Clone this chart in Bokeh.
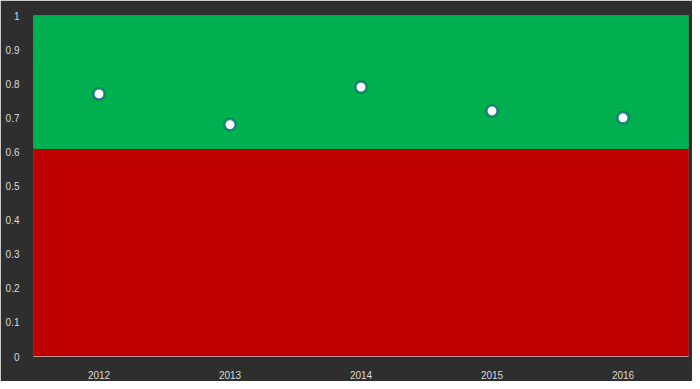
from bokeh.plotting import figure
from bokeh.models import Range1d, FixedTicker, NumeralTickFormatter, ColumnDataSource
from bokeh.embed import file_html
from bokeh.resources import INLINE

years = ["2012", "2013", "2014", "2015", "2016"]
values = [0.77, 0.68, 0.79, 0.72, 0.70]
threshold = [0.61, 0.61, 0.61, 0.61, 0.61]
top = [1, 1, 1, 1, 1]
y_ticks = [0, 0.1, 0.2, 0.3, 0.4, 0.5, 0.6, 0.7, 0.8, 0.9, 1]

src = ColumnDataSource(dict(year=years, value=values, thr=threshold, top=top, zero=[0] * 5))

p = figure(x_range=years, y_range=Range1d(0, 1), width=692, height=381,
           output_backend="svg", toolbar_location=None,
           min_border_left=33, min_border_right=4, min_border_top=15, min_border_bottom=23)
p.border_fill_color = "#2e2e2e"
p.background_fill_color = "#2e2e2e"
p.outline_line_color = None
p.xgrid.visible = False
p.ygrid.visible = False

p.vbar(x="year", bottom="zero", top="thr", width=1.0, source=src,
       fill_color="#C00000", line_color="#C00000", line_width=1)
p.vbar(x="year", bottom="thr", top="top", width=1.0, source=src,
       fill_color="#00B050", line_color="#00B050", line_width=1)

# soft shadow under markers
p.scatter(x="year", y="value", source=src, size=14, fill_color="#0b3d2a",
          fill_alpha=0.3, line_color=None)
p.scatter(x="year", y="value", source=src, size=10, fill_color="white",
          line_color="#3a78b8", line_width=1.2)

p.yaxis.ticker = FixedTicker(ticks=y_ticks)
p.yaxis.formatter = NumeralTickFormatter(format="0.[0]")
for ax in (p.xaxis[0], p.yaxis[0]):
    ax.major_tick_line_color = None
    ax.minor_tick_line_color = None
    ax.major_label_text_color = "#d9d9d9"
    ax.major_label_text_font = "Liberation Sans"
    ax.major_label_text_font_size = "10px"
p.yaxis.axis_line_color = None
p.yaxis.major_label_standoff = 8
p.xaxis.axis_line_color = "#d9d9d9"
p.xaxis.axis_line_alpha = 0.6
p.xaxis.major_label_standoff = 8

open("out.html", "w").write(file_html(p, INLINE))
